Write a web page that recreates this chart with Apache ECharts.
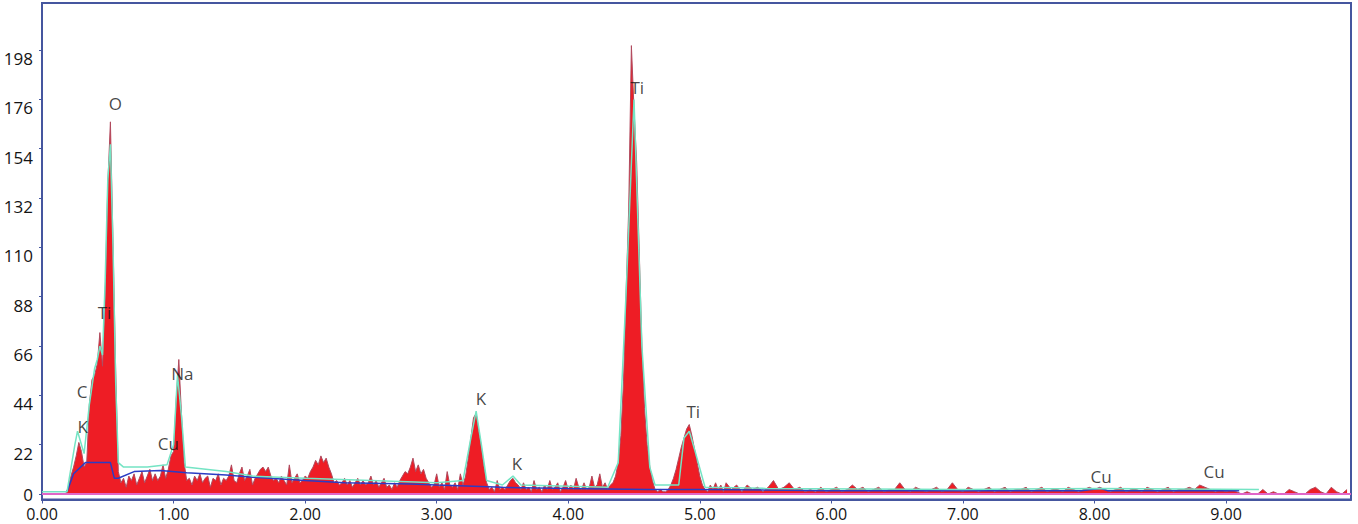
<!DOCTYPE html>
<html>
<head>
<meta charset="utf-8">
<script src="https://cdn.jsdelivr.net/npm/echarts@6/dist/echarts.min.js"></script>
<style>
html,body{margin:0;padding:0;background:#fff;}
#chart{width:1358px;height:524px;}
</style>
</head>
<body>
<div id="chart"></div>
<script>
// Spectrum counts, 0.00 .. 5.20 keV sampled every 0.02 keV
const lowStart = 0.0;
const lowStep = 0.02;
const countsLow = [
  0,0,0,0,0,0,0,0,0,0,
  3,8,12,17,23,19,12,14,40,51,
  53,58,72,57,88,138,166,112,55,10,
  5,7,3,8,6,9,4,7,10,5,
  8,11,6,9,6,8,13,7,11,17,
  19,42,60,36,14,6,7,4,8,6,
  9,5,7,8,3,7,6,9,4,7,
  6,8,13,6,5,9,12,6,8,11,
  4,7,9,11,12,10,12,8,6,7,
  5,8,6,4,13,5,7,9,5,6,
  8,7,10,12,15,13,17,14,16,12,
  9,5,6,4,5,7,4,6,3,5,
  7,4,6,4,5,8,4,6,3,5,
  7,3,4,2,5,3,6,8,10,9,
  12,16,10,13,9,11,7,5,3,4,
  9,3,5,2,10,4,3,5,2,9,
  4,8,16,25,34,36,28,21,12,5,
  2,3,1,6,2,3,2,4,6,7,
  5,4,2,5,2,3,1,6,2,3,
  1,4,2,6,2,3,5,1,3,6,
  2,4,2,7,3,2,5,2,3,8,
  3,4,9,3,5,2,4,5,8,14,
  26,50,90,128,200,172,148,108,66,38,
  22,12,6,2,1,2,1,1,2,4,
  7,11,16,21,25,29,31,26,20,14,
  8,4,2,1,4,2,5,2,4,1,
  5
];
// Spectrum counts, 5.24 .. 9.92 keV sampled every 0.04 keV
const highStart = 5.24;
const highStep = 0.04;
const countsHigh = [
  2,4,1,4,2, 3,1,3,6,2, 3,5,2,3,1, 2,1,3,1,2, 3,1,2,4,2,
  3,1,2,3,1, 2,2,5,2,1, 3,2,1,2,3, 1,2,5,2,1, 3,2,1,2,3,
  1,2,3,1,2, 2,3,1,2,3, 1,2,2,1,3, 2,1,2,3,2, 3,2,1,2,3,
  1,2,2,1,3, 2,1,2,3,1, 2,2,3,2,4, 3,2,1,2,1, 2,1,0,1,0,
  0,2,0,1,0, 0,2,1,0,0, 2,3,1,0,3, 1,0,2
];
// Fitted spectrum (cyan)
const fitEnergy = [0,0.19,0.21,0.25,0.27,0.29,0.32,0.36,0.40,0.42,0.44,0.46,0.48,0.50,0.52,0.54,0.56,0.58,0.62,0.80,0.95,1.00,1.03,1.06,1.09,1.40,1.60,2.00,2.50,3.00,3.20,3.26,3.30,3.34,3.38,3.50,3.58,3.64,4.30,4.38,4.44,4.50,4.56,4.62,4.66,4.84,4.88,4.92,4.96,5.04,5.50,7.00,8.04,9.25];
const fitCounts = [1,1,8,22,28,24,18,40,56,60,66,62,95,140,156,110,50,14,12,12,13,22,53,35,12,10,8,7,6,5,6,25,37,22,6,4,8,4,3,14,90,176,66,12,4,4,25,28,20,3,2.5,2,2.5,2];
// Background (blue)
const bgEnergy = [0.19,0.24,0.33,0.52,0.55,0.58,0.70,0.90,1.10,1.40,1.60,2.00,2.30,2.80,3.00,3.50,4.00,4.60,5.00,6.00,7.90,8.04,8.10,9.10];
const bgCounts = [1,9,14,14,7,7,10,10.5,9.5,8.5,7.5,6,5,4.5,4,3,2.5,2,2,1.5,1.5,2.5,1.5,1.5];
// Peak labels
const peakNames = ['K','C','Ti','O','Na','Cu','K','K','Ti','Ti','Cu','Cu'];
const peakEnergy = [0.31,0.304,0.475,0.558,1.067,0.961,3.336,3.61,4.525,4.95,8.05,8.91];
const peakCounts = [29.9,45.5,81,174,53.7,22.5,42.6,13.4,181.3,37,7.8,10];
// Axis ticks
const xTicks = [0,1,2,3,4,5,6,7,8,9];
const yTicks = [0,22,44,66,88,110,132,154,176,198];

const spectrum = countsLow.map((v,i)=>[+(lowStart+i*lowStep).toFixed(2), v])
  .concat(countsHigh.map((v,i)=>[+(highStart+i*highStep).toFixed(2), v]));
const fit = fitEnergy.map((e,i)=>[e, fitCounts[i]]);
const bg = bgEnergy.map((e,i)=>[e, bgCounts[i]]);
const labels = peakNames.map((n,i)=>({name:n, value:[peakEnergy[i], peakCounts[i]]}));

const frame = '#45569f';
const txt = '#141414';
const font = 'Open Sans';

const chart = echarts.init(document.getElementById('chart'), null, {renderer:'svg'});
chart.setOption({
  animation:false,
  backgroundColor:'#fff',
  grid:{left:42,right:7,top:3,bottom:24.5,show:true,borderColor:frame,borderWidth:2,backgroundColor:'transparent'},
  xAxis:{
    type:'value',min:0,max:9.95,
    axisLine:{show:true,onZero:false,lineStyle:{color:frame,width:2}},
    axisTick:{show:true,length:4,customValues:xTicks,lineStyle:{color:frame}},
    splitLine:{show:false},
    axisLabel:{color:txt,fontFamily:font,fontSize:16,margin:6,lineHeight:16,customValues:xTicks,formatter:v=>v.toFixed(2)}
  },
  yAxis:{
    type:'value',min:-2.45,max:219,
    axisLine:{show:true,lineStyle:{color:frame,width:2}},
    axisTick:{show:true,length:3,customValues:yTicks,lineStyle:{color:frame}},
    splitLine:{show:false},
    axisLabel:{color:txt,fontFamily:font,fontSize:17,margin:9,lineHeight:17,verticalAlign:'top',
      verticalAlignMinLabel:'middle',customValues:yTicks}
  },
  series:[
    {
      type:'line',data:spectrum,showSymbol:false,symbol:'none',
      lineStyle:{color:'#b04a5e',width:1},
      areaStyle:{color:'#ee1d25',opacity:1},
      z:2
    },
    {
      type:'line',data:bg,showSymbol:false,symbol:'none',
      lineStyle:{color:'#2b3cc4',width:1.5},z:3
    },
    {
      type:'line',data:fit,showSymbol:false,symbol:'none',
      lineStyle:{color:'#74e4c4',width:1.5},z:4,
      markLine:{silent:true,symbol:'none',label:{show:false},
        lineStyle:{color:'#e066c8',width:2,type:'solid'},data:[{yAxis:0}]}
    },
    {
      type:'scatter',data:labels,symbolSize:0,z:10,silent:true,
      label:{show:true,position:'inside',formatter:p=>p.name,color:txt,
        textBorderWidth:0,textBorderColor:'transparent',fontFamily:font,fontSize:17}
    }
  ]
});
</script>
</body>
</html>
